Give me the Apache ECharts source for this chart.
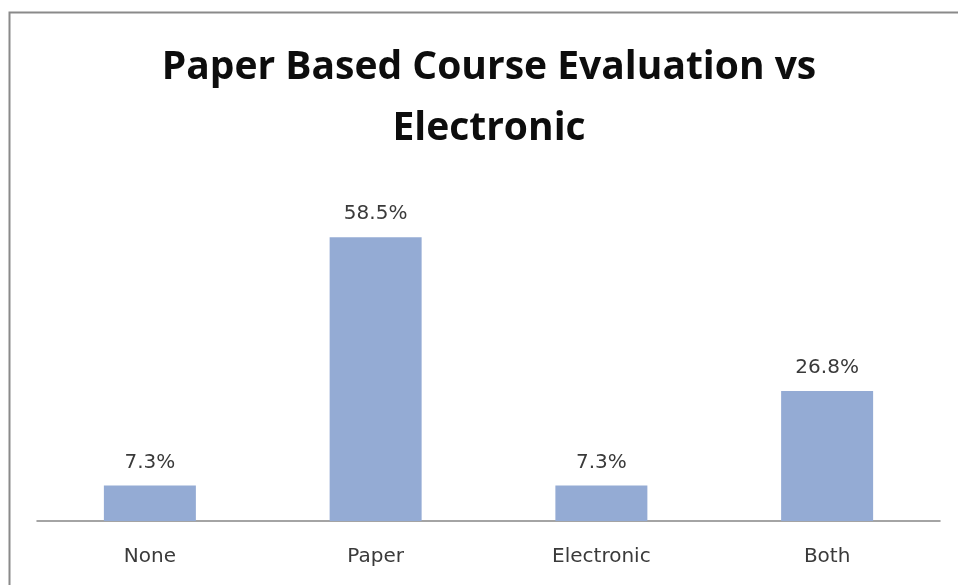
<!DOCTYPE html>
<html>
<head>
<meta charset="utf-8">
<script src="https://cdn.jsdelivr.net/npm/echarts@6/dist/echarts.min.js"></script>
<style>
  html, body { margin: 0; padding: 0; background: #fff; }
  #chart { width: 958px; height: 585px; }
</style>
</head>
<body>
<div id="chart"></div>
<script>
// Evaluation method preference, share of respondents (%)
const categories = ['None', 'Paper', 'Electronic', 'Both'];
const shares = [7.3, 58.5, 7.3, 26.8];

const chart = echarts.init(document.getElementById('chart'));

chart.setOption({
  backgroundColor: '#ffffff',
  animation: false,
  title: {
    text: 'Paper Based Course Evaluation vs\nElectronic',
    left: 484,
    top: 32,
    textAlign: 'center',
    textStyle: {
      fontFamily: 'Open Sans',
      fontWeight: 'bold',
      fontSize: 39,
      lineHeight: 61,
      color: '#0d0d0d'
    }
  },
  graphic: [{
    type: 'rect',
    shape: { x: 9.5, y: 12.5, width: 980, height: 600 },
    style: { fill: 'none', stroke: '#8a8a8a', lineWidth: 2 },
    silent: true
  }],
  grid: { left: 37, right: 18, top: 181.5, bottom: 64 },
  xAxis: {
    type: 'category',
    data: categories,
    axisLine: { lineStyle: { color: '#868686', width: 1.5 } },
    axisTick: { show: false },
    axisLabel: {
      margin: 26,
      fontFamily: 'DejaVu Sans',
      fontSize: 20,
      color: '#3a3a3a'
    }
  },
  yAxis: {
    type: 'value',
    min: 0,
    max: 70,
    show: false,
    splitLine: { show: false }
  },
  series: [{
    type: 'bar',
    data: shares,
    barWidth: 92,
    itemStyle: { color: '#94abd4' },
    label: {
      show: true,
      position: 'top',
      distance: 13,
      formatter: p => p.value.toFixed(1) + '%',
      fontFamily: 'DejaVu Sans',
      fontSize: 20,
      color: '#3a3a3a'
    }
  }]
});
</script>
</body>
</html>
